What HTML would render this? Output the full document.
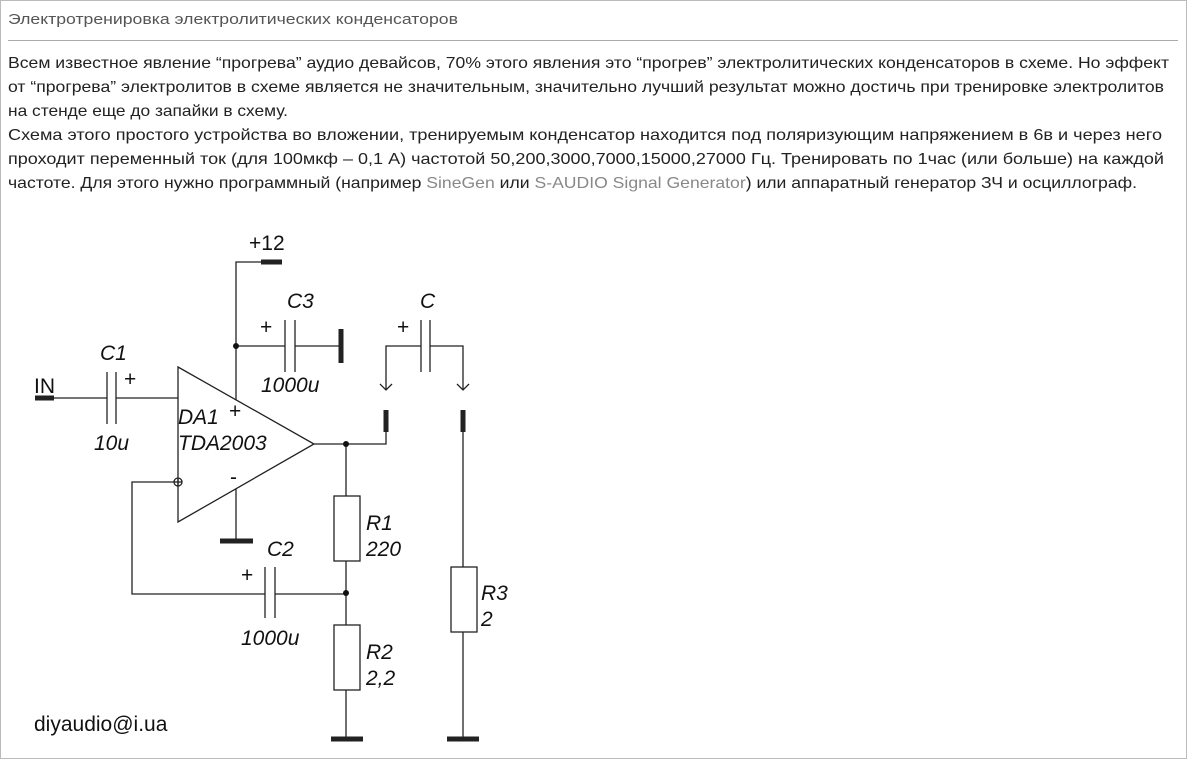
<!DOCTYPE html>
<html><head><meta charset="utf-8"><style>
html,body{margin:0;padding:0;background:#fff;}
svg{display:block;}
.t{font-family:"Liberation Sans",sans-serif;font-size:16px;fill:#222;}
.s{font-family:"Liberation Sans",sans-serif;font-style:italic;font-size:21px;fill:#111;}
.n{font-family:"Liberation Sans",sans-serif;font-size:21px;fill:#111;}
</style></head><body>
<svg width="1187" height="760" xmlns="http://www.w3.org/2000/svg">
<rect x="0.5" y="0.5" width="1186" height="758" fill="#fff" stroke="#bbb"/>
<text x="8" y="24" font-family="Liberation Sans, sans-serif" font-size="15" fill="#555" textLength="450" lengthAdjust="spacingAndGlyphs">Электротренировка электролитических конденсаторов</text>
<line x1="8" y1="40.5" x2="1178" y2="40.5" stroke="#aaa"/>
<text class="t" x="8" y="68" textLength="1161" lengthAdjust="spacingAndGlyphs">Всем известное явление “прогрева” аудио девайсов, 70% этого явления это “прогрев” электролитических конденсаторов в схеме. Но эффект</text>
<text class="t" x="8" y="92" textLength="1156" lengthAdjust="spacingAndGlyphs">от “прогрева” электролитов в схеме является не значительным, значительно лучший результат можно достичь при тренировке электролитов</text>
<text class="t" x="8" y="116" textLength="280" lengthAdjust="spacingAndGlyphs">на стенде еще до запайки в схему.</text>
<text class="t" x="8" y="140" textLength="1154" lengthAdjust="spacingAndGlyphs">Схема этого простого устройства во вложении, тренируемым конденсатор находится под поляризующим напряжением в 6в и через него</text>
<text class="t" x="8" y="164" textLength="1156" lengthAdjust="spacingAndGlyphs">проходит переменный ток (для 100мкф – 0,1 А) частотой 50,200,3000,7000,15000,27000 Гц. Тренировать по 1час (или больше) на каждой</text>
<text class="t" x="8" y="188" textLength="1129" lengthAdjust="spacingAndGlyphs">частоте. Для этого нужно программный (например <tspan fill="#888">SineGen</tspan> или <tspan fill="#888">S-AUDIO Signal Generator</tspan>) или аппаратный генератор ЗЧ и осциллограф.</text>

<g stroke="#222" stroke-width="1.3" fill="none">
<polygon points="178,367 314,444 178,522"/>
<polyline points="236,400 236,262 262,262"/>
<line x1="261" y1="262" x2="282" y2="262" stroke-width="5"/>
<line x1="236" y1="346" x2="285" y2="346"/>
<line x1="285" y1="320" x2="285" y2="372"/>
<line x1="295" y1="320" x2="295" y2="372"/>
<line x1="295" y1="346" x2="340" y2="346"/>
<line x1="341" y1="329" x2="341" y2="363" stroke-width="5"/>
<line x1="35" y1="398" x2="54" y2="398" stroke-width="5"/>
<line x1="54" y1="398" x2="107" y2="398"/>
<line x1="107" y1="372" x2="107" y2="424"/>
<line x1="116" y1="372" x2="116" y2="424"/>
<line x1="116" y1="398" x2="178" y2="398"/>
<polyline points="314,444 386,444 386,431"/>
<line x1="386" y1="410" x2="386" y2="432" stroke-width="5"/>
<line x1="346" y1="444" x2="346" y2="496"/>
<polyline points="386,390 386,346 421,346"/>
<line x1="421" y1="320" x2="421" y2="372"/>
<line x1="430" y1="320" x2="430" y2="372"/>
<polyline points="430,346 463,346 463,390"/>
<polyline points="380,384 386,390 392,384"/>
<polyline points="457,384 463,390 469,384"/>
<line x1="463" y1="410" x2="463" y2="432" stroke-width="5"/>
<line x1="463" y1="432" x2="463" y2="567"/>
<rect x="451" y="567" width="26" height="65"/>
<line x1="463" y1="632" x2="463" y2="739"/>
<line x1="447" y1="739" x2="479" y2="739" stroke-width="5"/>
<rect x="334" y="496" width="26" height="65"/>
<line x1="346" y1="561" x2="346" y2="625"/>
<rect x="334" y="625" width="26" height="65"/>
<line x1="346" y1="690" x2="346" y2="739"/>
<line x1="331" y1="739" x2="363" y2="739" stroke-width="5"/>
<circle cx="178" cy="482" r="4"/>
<line x1="174" y1="482" x2="182" y2="482"/>
<line x1="178" y1="478" x2="178" y2="486"/>
<polyline points="174,482 132,482 132,594 265,594"/>
<line x1="265" y1="567" x2="265" y2="618"/>
<line x1="275" y1="567" x2="275" y2="618"/>
<line x1="275" y1="594" x2="346" y2="594"/>
<line x1="236" y1="489" x2="236" y2="541"/>
<line x1="220" y1="541" x2="253" y2="541" stroke-width="5"/>
</g>
<g fill="#111">
<circle cx="236" cy="346" r="3"/>
<circle cx="346" cy="444" r="3"/>
<circle cx="346" cy="593" r="3"/>
</g>
<text class="n" x="249" y="250">+12</text>
<text class="s" x="287" y="308">C3</text>
<text class="n" x="260" y="334">+</text>
<text class="s" x="261" y="392">1000u</text>
<text class="s" x="420" y="308">C</text>
<text class="n" x="397" y="334">+</text>
<text class="s" x="100" y="360">C1</text>
<text class="n" x="124" y="386">+</text>
<text class="n" x="34" y="393">IN</text>
<text class="s" x="94" y="450">10u</text>
<text class="s" x="178" y="424">DA1</text>
<text class="s" x="178" y="450">TDA2003</text>
<text class="n" x="229" y="418">+</text>
<text class="n" x="230" y="484">-</text>
<text class="s" x="267" y="556">C2</text>
<text class="n" x="241" y="582">+</text>
<text class="s" x="241" y="645">1000u</text>
<text class="s" x="366" y="530">R1</text>
<text class="s" x="366" y="556">220</text>
<text class="s" x="366" y="659">R2</text>
<text class="s" x="366" y="685">2,2</text>
<text class="s" x="481" y="600">R3</text>
<text class="s" x="481" y="626">2</text>
<text class="n" x="34" y="731">diyaudio@i.ua</text>
</svg>
</body></html>
